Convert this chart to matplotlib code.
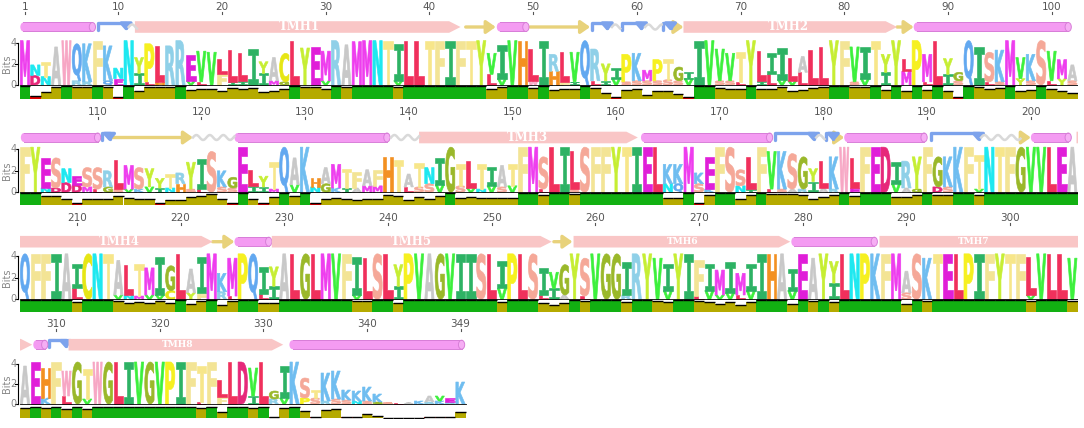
import numpy as np
import matplotlib
matplotlib.use('Agg')
import matplotlib.pyplot as plt
from matplotlib.textpath import TextPath
from matplotlib.font_manager import FontProperties
from matplotlib.patches import PathPatch, Rectangle, Ellipse, Polygon, FancyArrowPatch
from matplotlib.path import Path
from matplotlib.transforms import Affine2D

# ============================================================================
# data

row_starts = [1, 103, 205, 307]

top_res = [
    "MNTAWQKFKNNYPLRREVVLLLIYACLYEMRAMMNTILLTFIFTYVIVHLIRLVQRYIPKMPTGIIVVVTYLIILALLYFVITYYLPMLYGQISKMVKSVMA",
    "FYESNESSRLMSYYTRYISKGELYTQAKHAMTFAFHTATNIGTLTIATFMSLILSFFYTIELKKMKEFSSLFVKSGYLKWLFEDIRYFGKKFTNTFGVVLEA",
    "QFFIAICNTALTMIGLAIMKMPQIYALGLMVFILSLYPVAGVIISLIPLSIVGYSVGGIRYVIYIFIMIMIIHAIEAYYLNPKFMASKTELPIFYTFLVLLV",
    "AEHFWGTWGLIVGVPIFTFLLDVLGIKSTKKKKKKSLAKAVEK",
]

top_bits = [
    [4.2, 1.0, 1.4, 3.6, 4.2, 3.5, 3.6, 4.2, 3.3, 1.0,
     4.2, 1.5, 3.6, 3.4, 3.7, 4.2, 2.4, 2.9, 3.1, 1.5,
     3.0, 2.6, 3.4, 1.1, 2.2, 2.7, 4.2, 3.5, 3.6, 2.8,
     4.2, 3.8, 4.1, 4.2, 4.2, 4.2, 3.5, 4.2, 4.2, 4.2,
     4.2, 4.2, 4.2, 4.2, 4.2, 2.0, 3.2, 4.2, 4.2, 3.0,
     4.2, 1.6, 2.8, 2.8, 4.2, 3.0, 1.6, 1.0, 2.6, 2.6,
     1.0, 2.0, 2.0, 1.3, 0.6, 4.2, 4.2, 3.0, 2.6, 2.8,
     4.2, 2.8, 2.0, 3.0, 2.2, 1.5, 3.3, 3.6, 4.2, 4.2,
     3.3, 3.0, 4.2, 1.7, 4.2, 1.2, 4.2, 2.6, 4.2, 1.5,
     0.8, 4.2, 3.6, 2.8, 3.0, 4.2, 2.0, 2.5, 4.2, 2.8,
     1.8, 1.5],
    [4.2, 4.2, 2.8, 2.8, 1.3, 0.8, 1.8, 2.0, 1.5, 2.7,
     2.2, 2.0, 1.7, 0.9, 1.3, 1.0, 2.5, 2.8, 3.8, 1.5,
     1.0, 4.2, 1.5, 1.0, 2.5, 4.2, 2.5, 4.2, 0.8, 1.5,
     2.2, 1.8, 1.5, 1.5, 1.5, 3.3, 3.0, 1.2, 2.2, 1.5,
     2.5, 4.2, 2.0, 2.5, 2.3, 1.8, 2.0, 2.0, 4.2, 4.2,
     3.0, 4.2, 4.2, 3.5, 4.2, 4.2, 4.2, 4.2, 4.2, 4.2,
     4.2, 4.2, 1.8, 1.8, 4.2, 1.0, 3.0, 4.2, 4.2, 1.5,
     3.0, 4.2, 3.5, 3.5, 3.3, 3.0, 1.2, 2.5, 3.0, 4.2,
     2.8, 4.2, 4.2, 4.2, 2.0, 2.5, 3.0, 4.2, 2.8, 2.8,
     4.2, 4.2, 3.2, 4.2, 4.2, 4.2, 4.2, 4.2, 4.2, 4.2,
     4.2, 4.2],
    [4.2, 4.2, 4.2, 4.2, 4.2, 2.3, 4.2, 4.2, 4.2, 3.2,
     2.8, 3.0, 2.5, 3.5, 2.3, 4.2, 2.2, 3.3, 4.2, 1.7,
     3.5, 4.2, 4.2, 2.5, 1.8, 4.2, 4.2, 4.2, 4.2, 4.2,
     4.2, 4.2, 3.5, 3.8, 4.2, 4.2, 2.0, 4.2, 4.2, 4.2,
     4.2, 4.2, 4.2, 4.2, 4.2, 4.2, 2.5, 4.2, 4.2, 4.2,
     2.5, 1.5, 2.8, 4.2, 3.5, 4.2, 4.2, 4.2, 3.0, 4.2,
     4.2, 3.8, 2.5, 4.2, 4.2, 3.3, 2.5, 2.3, 2.8, 2.0,
     2.5, 4.2, 4.2, 4.2, 2.0, 4.2, 3.8, 4.2, 2.0, 4.2,
     4.2, 4.2, 4.2, 4.2, 4.2, 2.0, 4.2, 3.8, 4.2, 4.2,
     4.2, 4.2, 4.2, 4.2, 4.2, 4.2, 4.2, 3.5, 4.2, 4.2,
     4.2, 3.8],
    [3.8, 4.2, 3.0, 4.2, 2.5, 4.2, 3.0, 4.2, 4.2, 4.2,
     4.2, 4.2, 4.2, 4.2, 4.2, 4.2, 4.2, 3.6, 4.2, 1.7,
     4.2, 4.2, 2.8, 4.2, 0.8, 3.2, 4.2, 2.0, 0.8, 2.8,
     2.8, 1.0, 1.0, 1.4, 0.8, 0.15, 0.15, 0.15, 0.3, 0.6,
     0.5, 0.4, 2.2],
]

# second residue drawn under the top one ('.' = none)
sub_res = [
    ".DN..RR.QE" ".ILH..VL.F" "II.IMG...V" "......V..." ".....LV..W"
    ".HFI.LIVSS" "SSSSV..SSL" ".ILVVL...." "SV.I.M.L.I" "S..LS.YS.L" "YS",
    "..NDDDMLGS" "VKVINHSL.S" "S.IIM.V.NG" "KIAMM..LSS" "V.SVNVSV.."
    "L..S......" "..NQ.SK..N" "I.LSARIAR." "E...VAG.DS" "..V......." "..",
    ".....L...V" "NMVVC.YF.R" "L..LI....." "..V...I..." "......V..."
    "LIA.L...R." "..V..LVVVL" "V...V...I." ".....S...." ".......V.." "..",
    "..K.L.V..." ".......L.F" "..I.RV.PSR" "SSNSG....R" "KR.",
]

sub_bits = [
    [0, 0.9, 0.8, 0, 0, 0.4, 0.3, 0, 0.4, 0.6,
     0, 1.1, 0.3, 0.3, 0, 0, 0.4, 0.3, 0, 1.0,
     0.3, 0.4, 0, 1.1, 0.4, 0.3, 0, 0, 0, 0.4,
     0, 0, 0, 0, 0, 0, 0.4, 0, 0, 0,
     0, 0, 0, 0, 0, 1.0, 0.6, 0, 0, 0.4,
     0, 1.3, 0.3, 0.3, 0, 0.4, 0.4, 0.6, 0.3, 0.4,
     0.4, 0.4, 0.5, 0.4, 0.6, 0, 0, 0.4, 0.4, 0.3,
     0, 0.4, 1.0, 0.5, 0.4, 1.2, 0, 0, 0, 0,
     0.3, 0.6, 0, 1.2, 0, 1.3, 0, 0.3, 0, 1.0,
     0.4, 0, 0, 0.3, 0.3, 0, 0.6, 0.4, 0, 0.4,
     0.6, 0.4],
    [0, 0, 0.4, 0.4, 0.9, 0.7, 0.5, 0.3, 0.5, 0.3,
     0.3, 0.3, 0.5, 0.4, 0.4, 0.8, 0.3, 0.3, 0, 0.5,
     0.4, 0, 0.6, 0.5, 0.3, 0, 0.7, 0, 0.5, 0.8,
     0.4, 0.4, 0.4, 0.6, 0.6, 0, 0, 0.5, 0.5, 0.8,
     0.7, 0, 0.6, 0.4, 0.3, 0.6, 0.5, 0.6, 0, 0,
     0.3, 0, 0, 0.3, 0, 0, 0, 0, 0, 0,
     0, 0, 0.8, 0.8, 0, 0.8, 0.3, 0, 0, 0.6,
     0.3, 0, 0.3, 0.3, 0.3, 0.3, 1.0, 0.4, 0.3, 0,
     0.4, 0, 0, 0, 0.8, 0.4, 0.3, 0, 0.5, 0.5,
     0, 0, 0.3, 0, 0, 0, 0, 0, 0, 0,
     0, 0],
    [0, 0, 0, 0, 0, 1.0, 0, 0, 0, 0.4,
     0.4, 0.3, 0.4, 0.4, 0.8, 0, 0.6, 0.6, 0, 0.7,
     0.3, 0, 0, 0.5, 1.2, 0, 0, 0, 0, 0,
     0, 0, 0.4, 0, 0, 0, 1.2, 0, 0, 0,
     0, 0, 0, 0, 0, 0, 1.0, 0, 0, 0,
     0.4, 1.0, 0.4, 0, 0.3, 0, 0, 0, 0.4, 0,
     0, 0, 0.8, 0, 0, 0.3, 0.8, 0.4, 0.6, 0.4,
     0.8, 0, 0, 0, 0.8, 0, 0, 0, 1.5, 0,
     0, 0, 0, 0, 0, 0.6, 0, 0, 0, 0,
     0, 0, 0, 0, 0, 0, 0, 0.4, 0, 0,
     0, 0],
    [0, 0, 0.6, 0, 0.8, 0, 0.5, 0, 0, 0,
     0, 0, 0, 0, 0, 0, 0, 0.2, 0, 0.7,
     0, 0, 0.8, 0, 0.5, 0.6, 0, 0.6, 0.6, 0.3,
     0.5, 0.4, 0.3, 0.3, 0.2, 0, 0, 0, 0, 0.2,
     0.3, 0.2, 0],
]

# low-conservation columns (red bars)
red_cols = [2, 10, 58, 65, 91, 108, 116, 123, 126, 131, 168,
            331, 335, 338, 339, 345, 346, 347, 348]

tick_pos = [1] + list(range(10, 341, 10)) + [349]

# topology track (sequence positions)
cylinders = [(0.55, 7.8), (46.5, 49.6), (86.7, 101.9), (102.6, 110.3), (123.2, 138.2),
             (162.4, 175.1), (182.0, 190.0), (200.0, 203.9), (225.2, 228.8),
             (278.9, 287.2), (307.8, 309.2), (332.5, 349.4)]
tmh = [(11.6, 43.0, 'TMH1', 27.5), (64.5, 85.1, 'TMH2', 74.6), (141.0, 162.1, 'TMH3', 151.5),
       (204.4, 223.1, 'TMH4', 214.1), (228.8, 255.8, 'TMH5', 242.3),
       (257.9, 278.8, 'TMH6', 268.4), (287.4, 307.7, 'TMH7', 296.5),
       (311.2, 331.9, 'TMH8', 321.7)]
strands = [(43.5, 46.4), (49.7, 55.5), (63.5, 64.5), (85.1, 86.7), (111.4, 119.2),
           (181.2, 182.0), (199.0, 200.0), (223.1, 225.2), (256.0, 257.8)]
turns = [(7.9, 11.0), (55.5, 57.4), (58.4, 60.7), (62.4, 63.5), (110.3, 111.4),
         (175.2, 179.3), (180.1, 181.2), (190.2, 195.2), (309.2, 311.2)]
coils = [(11.0, 11.8), (57.6, 58.4), (60.8, 62.4), (119.2, 123.2), (138.3, 141.0),
         (179.3, 180.1), (195.2, 199.0)]

AA_COLORS = {
    'A': '#c8c8c8', 'C': '#e6e614', 'D': '#e6287a', 'E': '#e01ed8', 'F': '#f3e495',
    'G': '#9ab82a', 'H': '#f39021', 'I': '#2db264', 'K': '#6fbdf0', 'L': '#f0305c',
    'M': '#ee3dee', 'N': '#1ee8f0', 'P': '#f6f020', 'Q': '#62a8f0', 'R': '#8fd0e8',
    'S': '#f5a898', 'T': '#f7e68a', 'V': '#3cf03c', 'W': '#f7a6c4', 'Y': '#c6ee33',
}

# ============================================================================
W, H = 1084, 428
PX_COL = 10.37
LEFT_PX = 19.8
# bit0, bit4, tick label, topology centre, bar top, bar bottom (pixels from top)
row_px = [(85, 42.7, 7, 27, 86, 99),
          (192.3, 149.3, 111.7, 137.5, 193.3, 205),
          (299.3, 256, 217.7, 241.7, 300.3, 311.7),
          (404, 364, 324.3, 344.7, 407.3, 418.3)]

fig = plt.figure(figsize=(W / 100, H / 100), dpi=100)
fig.patch.set_facecolor('white')

fp_sans = FontProperties(family='DejaVu Sans', weight='bold')
fp_mono = FontProperties(family='DejaVu Sans Mono', weight='bold')
glyphs = {}


def draw_letter(ax, ch, xc, y0, h):
    if h <= 0.02:
        return
    if ch not in glyphs:
        p = TextPath((0, 0), ch, size=1, prop=fp_mono if ch in 'I' else fp_sans)
        glyphs[ch] = (p, p.get_extents())
    p, ext = glyphs[ch]
    w = 0.9
    tr = Affine2D().translate(-ext.x0, -ext.y0).scale(w / ext.width, h / ext.height)
    tr = tr.translate(xc - w / 2, y0)
    c = AA_COLORS[ch]
    ax.add_patch(PathPatch(p, transform=tr + ax.transData, fc=c, ec=c, lw=0.45, joinstyle='miter'))


def draw_topology(ax, lo, hi, yc, ppb):
    ch = 4.5 / ppb
    th = 5.8 / ppb
    for x0, x1 in coils:
        if x1 < lo or x0 > hi:
            continue
        xs = np.linspace(x0, x1, 40)
        ax.plot(xs, yc + 2.5 / ppb * np.sin(2 * np.pi * (xs - x0) / 1.3), color='#d9d9d9', lw=1.8)
    for x0, x1 in strands:
        if x1 < lo or x0 > hi:
            continue
        ax.add_patch(FancyArrowPatch((x0, yc), (x1, yc), arrowstyle='-|>,head_length=0.5,head_width=0.35',
                                     mutation_scale=11, lw=2.4, color='#e8d27b', shrinkA=0, shrinkB=0))
    for x0, x1 in turns:
        if x1 < lo or x0 > hi:
            continue
        up, dn = yc + 4.5 / ppb, yc - 4.0 / ppb
        verts = [(x0 + 0.15, dn + 1.5 / ppb), (x0 + 0.15, up), (x1 - 0.25, up), (x1 - 0.25, dn)]
        ax.add_patch(FancyArrowPatch(path=Path(verts), arrowstyle='-|>,head_length=0.4,head_width=0.35',
                                     mutation_scale=10, lw=2.4, color='#7da3ec', joinstyle='round'))
    for x0, x1 in cylinders:
        if x1 < lo or x0 > hi:
            continue
        ax.add_patch(Rectangle((x0 + 0.3, yc - ch), x1 - x0 - 0.6, 2 * ch, fc='#f49bf2', ec='none'))
        ax.add_patch(Ellipse((x0 + 0.3, yc), 0.6, 2 * ch, fc='#f49bf2', ec='none'))
        ax.plot([x0 + 0.3, x1 - 0.3], [yc + ch, yc + ch], color='#d87ed8', lw=0.7)
        ax.plot([x0 + 0.3, x1 - 0.3], [yc - ch, yc - ch], color='#d87ed8', lw=0.7)
        ax.add_patch(Ellipse((x1 - 0.3, yc), 0.6, 2 * ch, fc='#f6aef4', ec='#d87ed8', lw=0.7))
    for x0, x1, name, xl in tmh:
        if x1 < lo or x0 > hi:
            continue
        tip = 1.1
        ax.add_patch(Polygon([(x0, yc - th), (x1 - tip, yc - th), (x1, yc), (x1 - tip, yc + th), (x0, yc + th)],
                             closed=True, fc='#f9c6c6', ec='none'))
        if lo < xl < hi:
            big = name in ('TMH1', 'TMH2', 'TMH3', 'TMH4', 'TMH5')
            ax.text(xl, yc, name, color='white', ha='center', va='center', family='DejaVu Serif',
                    fontweight='bold', fontsize=8.5 if big else 6.5)


for r, start in enumerate(row_starts):
    bit0, bit4, lab, topo, btop, bbot = row_px[r]
    ppb = (bit0 - bit4) / 4.0
    T = max(lab - 7, 0)
    B = bbot + 1
    ax = fig.add_axes([LEFT_PX / W, 1 - B / H, 102 * PX_COL / W, (B - T) / H])
    lo, hi = start - 0.5, start + 101.5
    ax.set_xlim(lo, hi)
    ax.set_ylim(-(B - bit0) / ppb, (bit0 - T) / ppb)
    ax.axis('off')

    n = len(top_res[r])

    # position ruler
    ylab = (bit0 - lab) / ppb
    for tp in tick_pos:
        if start <= tp < start + n:
            ax.text(tp, ylab, str(tp), ha='center', va='center', fontsize=7.5, color='#555555')
            ax.plot([tp, tp], [ylab - 5 / ppb, ylab - 7 / ppb], color='#555555', lw=0.8)

    draw_topology(ax, lo, hi, (bit0 - topo) / ppb, ppb)

    # y axis
    xa = lo - 0.15
    ax.plot([xa, xa], [0, 4], color='black', lw=0.8, clip_on=False)
    for b in (0, 2, 4):
        ax.plot([xa - 0.3, xa], [b, b], color='black', lw=0.8, clip_on=False)
        ax.text(lo - 0.63, b, str(b), ha='center', va='center', fontsize=7, color='#888888')
    ax.text(lo - 1.25, 2, 'Bits', rotation=90, ha='center', va='center', fontsize=7, color='#888888')
    ax.plot([lo, lo + n], [0, 0], color='black', lw=0.6)

    # logo stacks
    for i, res in enumerate(top_res[r]):
        pos = start + i
        hs = sub_bits[r][i]
        sres = sub_res[r][i]
        base = 0.0
        if sres != '.' and hs > 0:
            draw_letter(ax, sres, pos, 0.0, hs)
            base = hs
        draw_letter(ax, res, pos, base, top_bits[r][i])

    # conservation bars
    ybot = -(bbot - bit0) / ppb
    ymax = (bbot - btop) / ppb
    for i, res in enumerate(top_res[r]):
        pos = start + i
        tot = top_bits[r][i] + sub_bits[r][i]
        frac = min(max((tot - 0.3) / 3.6, 0.0), 1.0)
        if top_bits[r][i] >= 4.0:
            col, frac = '#12b012', 1.0
        elif pos in red_cols:
            col, frac = '#e00000', min(max(frac * 0.5, 0.15), 0.3)
        else:
            col = '#b5aa00'
            frac = min(frac, 0.92)
        if tot < 0.5:
            frac = 0.0
        ytop = ybot + frac * ymax
        ax.add_patch(Rectangle((pos - 0.5, ybot), 1.0, ytop - ybot, fc=col, ec='none'))
        ax.plot([pos - 0.5, pos + 0.5], [ytop, ytop], color='black', lw=1.0, solid_capstyle='butt')

fig.savefig('out.png', dpi=100)
